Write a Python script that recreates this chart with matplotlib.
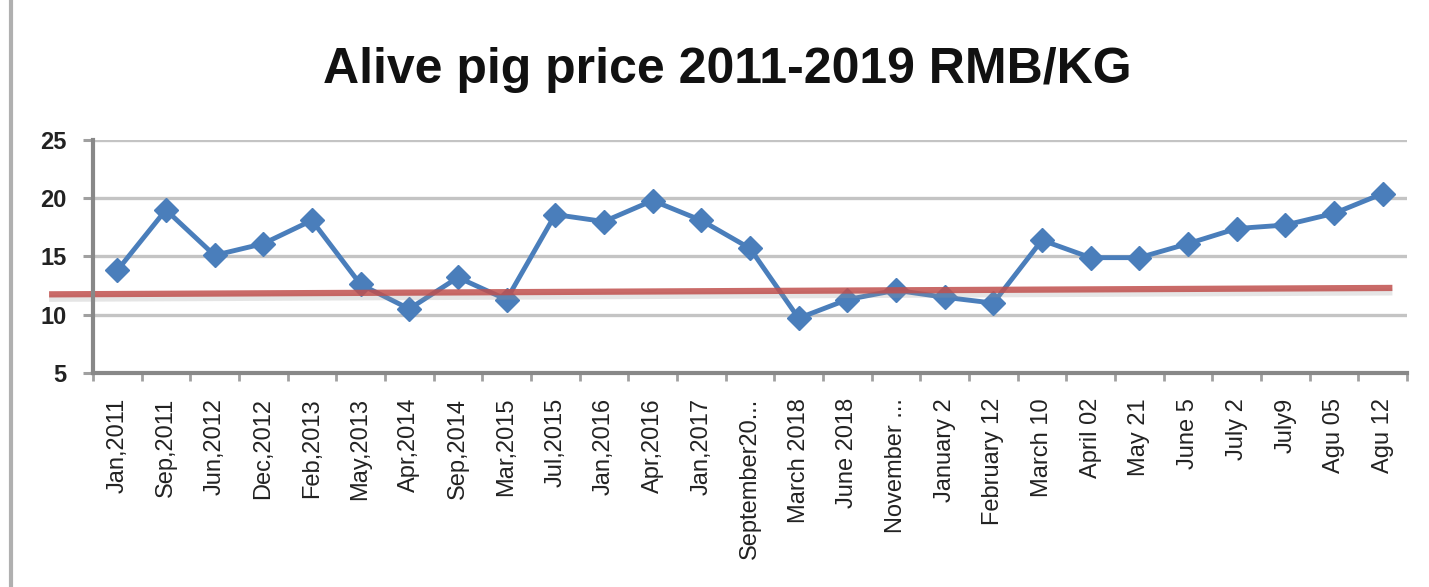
import matplotlib.pyplot as plt
import matplotlib.lines as mlines
import numpy as np

labels = ["Jan,2011", "Sep,2011", "Jun,2012", "Dec,2012", "Feb,2013", "May,2013",
          "Apr,2014", "Sep,2014", "Mar,2015", "Jul,2015", "Jan,2016", "Apr,2016",
          "Jan,2017", "September20...", "March 2018", "June 2018", "November ...",
          "January 2", "February 12", "March 10", "April 02", "May 21", "June 5",
          "July 2", "July9", "Agu 05", "Agu 12"]
prices = [13.8, 19.0, 15.1, 16.1, 18.1, 12.6, 10.5, 13.2, 11.3, 18.6, 18.0, 19.8,
          18.1, 15.7, 9.7, 11.3, 12.1, 11.5, 11.0, 16.4, 14.9, 14.9, 16.1, 17.4,
          17.7, 18.7, 20.4]

# red reference line (drawn by hand in the original)
red_x = [-1.4, 26.2]
red_y = [11.75, 12.3]

plt.rcParams['font.family'] = ['Liberation Sans', 'DejaVu Sans']

fig = plt.figure(figsize=(14.29, 5.87), dpi=100)
ax = fig.add_axes([0.065, 0.3646, 0.9196, 0.3969])

x = np.arange(len(labels))
ax.set_xlim(-0.5, len(labels) - 0.5)
ax.set_ylim(5, 25)
ax.set_yticks([5, 10, 15, 20, 25])

for v in [10, 15, 20, 25]:
    ax.axhline(v, color='#c4c4c4', lw=2.4, zorder=1)

ax.plot(x, prices, color='#4A7EBB', lw=3.5, marker='D', markersize=12,
        markeredgecolor='#4A7EBB', zorder=3, clip_on=False)

# shadow + red line
ax.plot(red_x, [v - 0.35 for v in red_y], color='#999999', lw=5, alpha=0.25,
        zorder=4, clip_on=False, solid_capstyle='butt')
ax.plot(red_x, red_y, color='#C0504D', lw=4.5, alpha=0.85, zorder=5,
        clip_on=False, solid_capstyle='butt')

ax.set_xticks(x)
ax.set_xticklabels(labels, rotation=90, fontsize=17, color='#222222')
ax.set_xticks(np.arange(-0.5, len(labels)), minor=True)
ax.tick_params(axis='x', which='major', length=0, pad=18)
ax.tick_params(axis='x', which='minor', length=6, width=2, color='#a0a0a0')
ax.tick_params(axis='y', length=7, width=2.2, color='#a0a0a0', labelsize=17,
               pad=12, labelcolor='#222222')
for lab in ax.get_yticklabels():
    lab.set_fontweight('bold')

for s in ['top', 'right']:
    ax.spines[s].set_visible(False)
for s in ['left', 'bottom']:
    ax.spines[s].set_color('#888888')
    ax.spines[s].set_linewidth(3)
    ax.spines[s].set_zorder(6)

fig.text(0.509, 0.88, 'Alive pig price 2011-2019 RMB/KG', ha='center', va='center',
         fontsize=36, fontweight='bold', color='#111111')

fig.add_artist(mlines.Line2D([0.008, 0.008], [0, 1], color='#b0b0b0', lw=3,
                             transform=fig.transFigure))

fig.savefig('out.png', dpi=100)
